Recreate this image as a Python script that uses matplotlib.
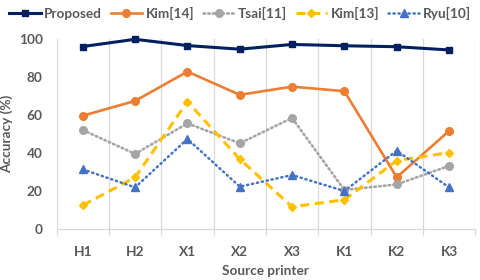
import matplotlib
matplotlib.use("Agg")
import matplotlib.pyplot as plt
from matplotlib.ticker import FixedLocator

categories = ["H1", "H2", "X1", "X2", "X3", "K1", "K2", "K3"]
proposed = [96.0, 99.8, 96.5, 94.6, 97.1, 96.4, 95.9, 94.2]
kim14 = [59.6, 67.4, 82.8, 70.6, 74.9, 72.5, 27.2, 51.6]
tsai11 = [52.1, 39.5, 55.6, 45.1, 58.4, 20.5, 23.5, 33.2]
kim13 = [12.5, 27.2, 67.0, 36.8, 11.7, 15.4, 36.0, 40.2]
ryu10 = [31.4, 21.9, 47.4, 22.3, 28.4, 20.0, 41.2, 21.9]
y_ticks = [0, 20, 40, 60, 80, 100]

plt.rcParams['font.family'] = ['Lato', 'DejaVu Sans']
txt = '#595959'
fs = 9.8

fig = plt.figure(figsize=(4.8, 2.8), dpi=100)
ax = fig.add_axes([0.118, 0.182, 0.872, 0.679])
x = list(range(len(categories)))

ax.plot(x, proposed, color='#002060', lw=2.2, marker='s', ms=5, label='Proposed', clip_on=False, zorder=3)
ax.plot(x, kim14, color='#ED7D31', lw=1.9, marker='o', ms=5.5, label='Kim[14]', clip_on=False, zorder=4)
ax.plot(x, tsai11, color='#A5A5A5', lw=1.9, ls=(0, (0.6, 1.2)), dash_capstyle='round', marker='o', ms=5.5, label='Tsai[11]', clip_on=False, zorder=5)
ax.plot(x, kim13, color='#FFC000', lw=2.2, ls=(0, (3, 1.8)), marker='D', ms=4.5, label='Kim[13]', clip_on=False, zorder=6)
ax.plot(x, ryu10, color='#4472C4', lw=1.8, ls=(0, (0.5, 1.5)), dash_capstyle='round', marker='^', ms=5.5, label='Ryu[10]', clip_on=False, zorder=7)

ax.set_xlim(-0.5, len(categories) - 0.5)
ax.set_ylim(0, 100)
ax.set_yticks(y_ticks)
ax.set_xticks(x)
ax.set_xticklabels(categories)
ax.xaxis.set_minor_locator(FixedLocator([i - 0.5 for i in range(len(categories) + 1)]))
ax.grid(True, which='minor', axis='x', color='#D9D9D9', lw=0.9)
ax.tick_params(axis='x', which='major', length=0, pad=12, labelsize=fs, labelcolor=txt)
ax.tick_params(axis='x', which='minor', length=4, color='#D9D9D9', width=0.9)
ax.tick_params(axis='y', length=0, pad=10, labelsize=fs, labelcolor=txt)
for lab in ax.get_xticklabels() + ax.get_yticklabels():
    lab.set_fontweight('bold')
for s in ['top', 'right', 'left']:
    ax.spines[s].set_visible(False)
ax.spines['bottom'].set_color('#D9D9D9')
ax.spines['bottom'].set_linewidth(0.9)

ax.set_xlabel('Source printer', fontsize=fs, fontweight='bold', color=txt, labelpad=5)
ax.set_ylabel('Accuracy (%)', fontsize=fs, fontweight='bold', color=txt, labelpad=4)

fig.legend(loc='upper center', bbox_to_anchor=(0.5, 1.02), ncol=5, frameon=False,
           prop={'size': fs, 'weight': 'bold'}, labelcolor=txt,
           handlelength=2.3, handletextpad=0.25, columnspacing=0.65)

fig.savefig('out.png', dpi=100)
